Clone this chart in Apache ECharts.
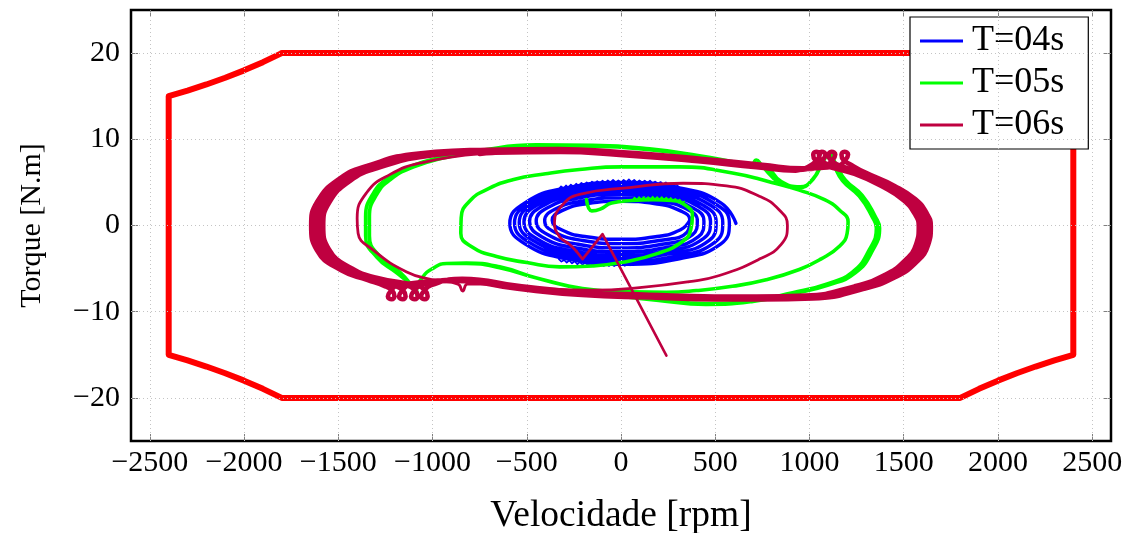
<!DOCTYPE html>
<html>
<head>
<meta charset="utf-8">
<script src="https://cdn.jsdelivr.net/npm/echarts@6/dist/echarts.min.js"></script>
<style>
  html, body { margin: 0; padding: 0; background: #fff; }
  #chart { width: 1136px; height: 533px; }
</style>
</head>
<body>
<div id="chart"></div>
<script>
// Axis ticks
const xTicks = [-2500, -2000, -1500, -1000, -500, 0, 500, 1000, 1500, 2000, 2500];
const yTicks = [-20, -10, 0, 10, 20];

// Torque / speed limit envelope [rpm, N.m]
const limitEnvelope = [
  [-1800, 20], [1800, 20], [1900, 18.95], [2000, 18], [2100, 17.14], [2200, 16.36], [2300, 15.65], [2400, 15],
  [2400, -15], [2300, -15.65], [2200, -16.36], [2100, -17.14], [2000, -18], [1900, -18.95], [1800, -20],
  [-1800, -20], [-1900, -18.95], [-2000, -18], [-2100, -17.14], [-2200, -16.36], [-2300, -15.65], [-2400, -15],
  [-2400, 15], [-2300, 15.65], [-2200, 16.36], [-2100, 17.14], [-2000, 18], [-1900, 18.95], [-1800, 20]
];

// T=04s trajectory
const traceT04 = [
  [610,0.25],[530,2.63],[310,4.36],[10,5.0],[-290,4.36],[-510,2.63],[-590,0.25],[-510,-2.13],[-290,-3.86],[10,-4.5],[310,-3.86],[530,-2.13],
  [575,0.3],[499,2.53],[290,4.15],[5,4.75],[-280,4.15],[-489,2.53],[-565,0.3],[-489,-1.93],[-280,-3.55],[5,-4.15],[290,-3.55],[499,-1.93],
  [540,0.35],[468,2.43],[270,3.94],[0,4.5],[-270,3.94],[-468,2.43],[-540,0.35],[-468,-1.73],[-270,-3.24],[0,-3.8],[270,-3.24],[468,-1.73],
  [505,0.4],[437,2.33],[250,3.73],[-5,4.25],[-260,3.73],[-447,2.33],[-515,0.4],[-447,-1.53],[-260,-2.93],[-5,-3.45],[250,-2.93],[437,-1.53],
  [475,0.45],[411,2.2],[235,3.48],[-5,3.95],[-245,3.48],[-421,2.2],[-485,0.45],[-421,-1.3],[-245,-2.58],[-5,-3.05],[235,-2.58],[411,-1.3],
  [440,0.5],[380,2.05],[218,3.18],[-5,3.6],[-228,3.18],[-390,2.05],[-450,0.5],[-390,-1.05],[-228,-2.18],[-5,-2.6],[218,-2.18],[380,-1.05],
  [405,0.55],[351,1.88],[203,2.84],[0,3.2],[-203,2.84],[-351,1.88],[-405,0.55],[-351,-0.78],[-203,-1.74],[0,-2.1],[203,-1.74],[351,-0.78],
  [365,0.6],[316,1.7],[183,2.51],[0,2.8],[-183,2.51],[-316,1.7],[-365,0.6],[-316,-0.5],[-183,-1.31],[0,-1.6],[183,-1.31],[316,-0.5],[365,0.6]
];
// T=04s ripple on the upper and lower crests
const rippleT04Top = [
  [-330,4.2],[-318,4.55],[-305,4.3],[-292,4.65],[-280,4.4],[-266,4.75],[-252,4.5],[-238,4.85],[-224,4.6],[-210,4.95],[-196,4.7],
  [-182,5.0],[-168,4.75],[-154,5.1],[-140,4.85],[-126,5.15],[-112,4.9],[-98,5.2],[-84,4.95],[-70,5.25],[-56,5.0],[-42,5.3],
  [-28,5.0],[-14,5.25],[0,5.0],[14,5.3],[28,5.05],[42,5.35],[56,5.05],[70,5.3],[84,5.0],[98,5.25],[112,5.0],[126,5.2],
  [140,4.95],[154,5.2],[168,4.9],[182,5.1],[196,4.85],[210,5.05],[224,4.8],[238,5.0],[252,4.7],[266,4.9],[280,4.6],[294,4.75],[308,4.45]
];
const rippleT04Bottom = [
  [-330,-3.9],[-316,-4.2],[-302,-4.0],[-288,-4.3],[-274,-4.05],[-260,-4.4],[-246,-4.15],[-232,-4.5],[-218,-4.25],[-204,-4.55],
  [-190,-4.3],[-176,-4.6],[-162,-4.35],[-148,-4.65],[-134,-4.4],[-120,-4.7],[-106,-4.45],[-92,-4.7],[-78,-4.45],[-64,-4.7],
  [-50,-4.5],[-36,-4.72],[-22,-4.5],[-8,-4.7],[6,-4.5],[20,-4.68],[34,-4.45],[48,-4.62]
];

// T=05s trajectory
const traceT05 = [
  [-183,3.0],[-155,1.7],[-110,1.9],[-50,2.6],[60,2.9],[170,3.0],[270,2.9],[345,2.3],[379,1.2],[370,-0.5],[330,-1.8],[200,-3.2],[0,-4.3],
  [-151,-4.7],[-326,-4.8],[-500,-4.3],[-660,-3.6],[-790,-2.5],[-850,-0.9],[-848,0.9],[-800,2.9],[-700,4.3],[-575,5.3],[-400,6.0],
  [-220,6.5],[0,6.8],[310,6.8],[591,6.1],[800,5.0],[946,4.1],[1080,3.0],[1159,1.8],[1205,0.4],[1200,-0.9],[1159,-2.4],[1060,-3.9],
  [946,-5.1],[770,-6.3],[591,-7.05],[400,-7.55],[241,-7.75],[50,-7.7],[-204,-7.3],[-448,-6.1],[-644,-4.9],[-820,-4.4],[-925,-4.4],
  [-1000,-5.0],[-1053,-6.0],[-1085,-7.5],[-1075,-8.3],[-1110,-7.0],
  [-1174,-5.4],[-1280,-3.6],[-1335,-1.2],[-1335,1.0],[-1296,3.6],[-1220,5.4],[-1100,6.8],[-950,7.8],[-750,8.6],[-450,9.25],
  [-150,9.2],[151,8.8],[416,8.0],[640,7.15],[690,7.0],[718,7.6],[745,7.0],[840,5.0],[946,4.4],[1015,5.3],[1068,7.3],[1100,8.3],
  [1130,7.0],[1175,5.2],[1264,3.4],[1333,1.0],[1355,-0.3],[1318,-2.8],[1228,-5.4],[1090,-6.8],[910,-7.8],[700,-8.7],[450,-9.05],
  [200,-8.6],[-50,-8.0],[-204,-7.4],[-448,-6.1],[-644,-4.8],[-820,-4.35],[-925,-4.4],[-1000,-5.0],[-1053,-6.0],[-1085,-7.5],
  [-1075,-8.3],[-1110,-7.0],
  [-1190,-5.5],[-1295,-3.7],[-1355,-1.2],[-1355,1.0],[-1315,3.7],[-1235,5.5],[-1110,6.9],[-955,7.9],[-750,8.7],[-450,9.35],
  [-150,9.3],[151,8.9],[416,8.1],[640,7.25],[760,6.9],[850,5.1],[950,4.5],[1020,5.4],[1072,7.4],[1105,8.35],[1140,7.1],[1190,5.3],
  [1280,3.5],[1350,1.0],[1372,-0.3],[1335,-2.9],[1243,-5.5],[1100,-6.9],[915,-7.9],[700,-8.8],[450,-9.15],[200,-8.7],[-50,-8.1]
];
// T=05s ripple on the first crest
const rippleT05 = [
  [60,2.9],[72,3.25],[84,2.95],[96,3.3],[108,3.0],[120,3.3],[132,2.95],[144,3.3],[156,3.0],[168,3.35],[180,3.0],[192,3.3],
  [204,2.95],[216,3.3],[228,2.95],[240,3.25],[252,2.9],[264,3.2],[276,2.85],[288,3.1],[300,2.75],[312,3.0],[324,2.6],[336,2.8]
];

// T=06s trajectory: straight start-up segment, first orbit, settled band
const stemT06 = [[241,-15.1],[-98,-1.0],[-204,-3.9],[-236,-3.0]];
const firstOrbitT06 = [
  [-236,-3.0],[-273,-2.2],[-326,-1.3],[-353,0.35],[-310,2.4],[-220,3.6],[45,4.4],[330,4.9],[560,4.6],[734,3.4],[840,1.8],[883,0],
  [850,-2.2],[734,-3.9],[522,-5.8],[363,-6.5],[98,-7.2],[-151,-7.5],[-432,-7.3],[-700,-6.8],[-815,-6.8],[-840,-7.6],[-865,-6.8],
  [-1000,-6.3],[-1137,-5.4],[-1318,-2.8],[-1395,-0.9],[-1400,0.8],[-1350,3.8],[-1227,5.9],[-1053,7.3],[-750,8.3]
];
const bandT06 = [
  [-750,8.3],
  [-683,8.43],[-319,8.53],[-8,8.18],[408,7.45],[719,6.76],[927,6.37],
  [1000,6.9],[1040,7.6],[1055,8.25],[1035,8.55],[1020,8.2],[1030,7.6],[1075,7.0],
  [1239,5.98],[1396,4.41],[1499,2.94],[1558,1.37],[1580,-0.1],[1566,-2.16],[1499,-4.21],[1396,-5.78],[1239,-7.06],[979,-8.13],
  [719,-8.23],[496,-8.23],[148,-8.04],[-200,-7.74],[-527,-7.06],[-843,-6.17],
  [-1006,-6.9],[-1046,-7.6],[-1061,-8.25],[-1041,-8.55],[-1026,-8.2],[-1036,-7.6],[-1081,-7.0],
  [-1292,-6.08],[-1427,-5.0],[-1550,-2.74],[-1580,0],[-1548,2.65],[-1437,5.19],[-1292,6.66],[-1032,8.04],
  [-692,8.54],[-324,8.64],[-8,8.29],[413,7.55],[729,6.85],[939,6.45],
  [1030,6.9],[1070,7.6],[1085,8.25],[1065,8.55],[1050,8.2],[1060,7.6],[1105,7.0],
  [1255,6.06],[1414,4.47],[1519,2.98],[1579,1.39],[1601,-0.1],[1587,-2.18],[1519,-4.27],[1414,-5.86],[1255,-7.15],[992,-8.24],
  [729,-8.34],[502,-8.34],[150,-8.14],[-203,-7.84],[-534,-7.15],[-854,-6.26],
  [-1059,-6.9],[-1099,-7.6],[-1114,-8.25],[-1094,-8.55],[-1079,-8.2],[-1089,-7.6],[-1134,-7.0],
  [-1309,-6.16],[-1446,-5.06],[-1571,-2.78],[-1601,0],[-1569,2.68],[-1456,5.26],[-1309,6.75],[-1046,8.14],
  [-702,8.66],[-328,8.76],[-8,8.41],[419,7.65],[739,6.95],[953,6.55],
  [1082,6.9],[1122,7.6],[1137,8.25],[1117,8.55],[1102,8.2],[1112,7.6],[1157,7.0],
  [1273,6.14],[1434,4.53],[1541,3.02],[1601,1.41],[1623,-0.1],[1609,-2.22],[1541,-4.33],[1434,-5.94],[1273,-7.25],[1006,-8.36],
  [739,-8.46],[510,-8.46],[152,-8.26],[-205,-7.96],[-542,-7.25],[-866,-6.34],
  [-1123,-6.9],[-1163,-7.6],[-1178,-8.25],[-1158,-8.55],[-1143,-8.2],[-1153,-7.6],[-1198,-7.0],
  [-1327,-6.24],[-1466,-5.14],[-1593,-2.82],[-1623,0],[-1591,2.72],[-1476,5.34],[-1327,6.85],[-1060,8.26],
  [-711,8.77],[-333,8.87],[-8,8.52],[424,7.75],[749,7.04],[965,6.63],
  [1150,6.9],[1190,7.6],[1205,8.25],[1185,8.55],[1170,8.2],[1180,7.6],[1225,7.0],
  [1289,6.22],[1452,4.59],[1561,3.06],[1622,1.43],[1644,-0.1],[1630,-2.24],[1561,-4.39],[1452,-6.02],[1289,-7.34],[1019,-8.47],
  [749,-8.57],[516,-8.57],[154,-8.36],[-208,-8.06],[-549,-7.34],[-877,-6.43],
  [-1182,-6.9],[-1222,-7.6],[-1237,-8.25],[-1217,-8.55],[-1202,-8.2],[-1212,-7.6],[-1257,-7.0],
  [-1344,-6.32],[-1485,-5.2],[-1614,-2.86],[-1644,0],[-1612,2.75],[-1495,5.41],[-1344,6.94],[-1074,8.36],[-711,8.77]
];

const FONT = '"Liberation Serif", "Times New Roman", serif';
const BLUE = '#0000ff', GREEN = '#00ff00', CRIMSON = '#bf0040', RED = '#ff0000';

const fmt = v => (v < 0 ? '\u2212' + Math.abs(v) : String(v));

const chart = echarts.init(document.getElementById('chart'), null, { renderer: 'canvas' });

function curve(name, data, color, width, z, smooth) {
  return {
    type: 'line', name, data, z,
    smooth: smooth ? 0.5 : false,
    showSymbol: false, symbol: 'none', silent: true,
    lineStyle: { color, width, cap: 'round', join: 'round' },
    itemStyle: { color }
  };
}

const tickStyle = { color: '#7f7f7f', width: 1 };
const gridLine = { color: '#c4c4c4', width: 1, type: [1, 3] };

chart.setOption({
  animation: false,
  backgroundColor: '#fff',
  grid: {
    left: 131, right: 25, top: 10, bottom: 92,
    outerBoundsMode: 'none', containLabel: false,
    show: true, borderColor: '#000', borderWidth: 2.5, backgroundColor: '#fff'
  },
  xAxis: [
    {
      type: 'value', min: -2600, max: 2600, position: 'bottom',
      name: 'Velocidade [rpm]', nameLocation: 'middle', nameGap: 56,
      nameTextStyle: { fontFamily: FONT, fontSize: 37.5, color: '#000' },
      axisLine: { show: false, onZero: false },
      splitLine: { show: false },
      axisTick: { show: true, inside: true, length: 7, customValues: xTicks, lineStyle: tickStyle },
      axisLabel: { customValues: xTicks, formatter: fmt, fontFamily: FONT, fontSize: 30, color: '#000', margin: 7 }
    },
    {
      type: 'value', min: -2600, max: 2600, position: 'top',
      axisLine: { show: false, onZero: false }, splitLine: { show: false }, axisLabel: { show: false },
      axisTick: { show: true, inside: true, length: 7, customValues: xTicks, lineStyle: tickStyle }
    }
  ],
  yAxis: [
    {
      type: 'value', min: -25, max: 25, position: 'left',
      name: 'Torque [N.m]', nameLocation: 'middle', nameGap: 84, nameRotate: 90,
      nameTextStyle: { fontFamily: FONT, fontSize: 30, color: '#000' },
      axisLine: { show: false, onZero: false },
      splitLine: { show: false },
      axisTick: { show: true, inside: true, length: 7, customValues: yTicks, lineStyle: tickStyle },
      axisLabel: { customValues: yTicks, formatter: fmt, fontFamily: FONT, fontSize: 30, color: '#000', margin: 11 }
    },
    {
      type: 'value', min: -25, max: 25, position: 'right',
      axisLine: { show: false, onZero: false }, splitLine: { show: false }, axisLabel: { show: false },
      axisTick: { show: true, inside: true, length: 7, customValues: yTicks, lineStyle: tickStyle }
    }
  ],
  legend: {
    data: ['T=04s', 'T=05s', 'T=06s'],
    orient: 'vertical', left: 910, top: 17,
    icon: 'rect', itemWidth: 43, itemHeight: 3, itemGap: 4,
    padding: [5, 24, 5, 10],
    backgroundColor: '#fff', borderColor: '#000', borderWidth: 1.2,
    selectedMode: false,
    textStyle: { fontFamily: FONT, fontSize: 36, color: '#000', padding: [0, 0, 0, 4], lineHeight: 38 }
  },
  series: [
    {
      type: 'line', data: [], z: 1, silent: true, showSymbol: false,
      markLine: {
        silent: true, symbol: ['none', 'none'], animation: false,
        label: { show: false },
        lineStyle: gridLine,
        data: xTicks.map(v => ({ xAxis: v })).concat(yTicks.map(v => ({ yAxis: v })))
      }
    },
    curve('limit', limitEnvelope, RED, 6, 2, false),
    curve('T=04s', traceT04, BLUE, 3.4, 3, true),
    curve('T=04s', rippleT04Top, BLUE, 1.6, 3, false),
    curve('T=04s', rippleT04Bottom, BLUE, 1.6, 3, false),
    curve('T=05s', traceT05, GREEN, 3.6, 4, true),
    curve('T=05s', rippleT05, GREEN, 1.6, 4, false),
    curve('T=06s', stemT06, CRIMSON, 2.6, 5, false),
    curve('T=06s', firstOrbitT06, CRIMSON, 2.8, 5, true),
    curve('T=06s', bandT06, CRIMSON, 4.6, 5, true)
  ]
});
</script>
</body>
</html>
